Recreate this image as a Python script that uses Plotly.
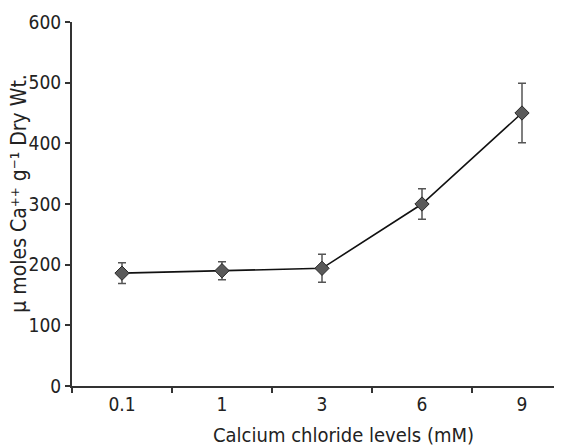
import plotly.graph_objects as go

categories = ["0.1", "1", "3", "6", "9"]
values = [186, 190, 194, 300, 450]
errors = [17, 15, 23, 25, 49]
y_ticks = [0, 100, 200, 300, 400, 500, 600]

FONT = "DejaVu Sans Condensed, Liberation Sans Narrow, Arial Narrow, sans-serif"
TXT = "#222222"

fig = go.Figure()
fig.add_trace(go.Scatter(
    x=categories, y=values,
    mode="lines+markers",
    line=dict(color="#111111", width=1.6),
    marker=dict(symbol="diamond", size=11, color="#5a5a5a",
                line=dict(color="#2a2a2a", width=1)),
    error_y=dict(type="data", array=errors, visible=True,
                 color="#555555", thickness=1.5, width=4),
    showlegend=False,
))

# page body has an 8px default margin, so the figure is sized to compensate
fig.update_layout(
    width=554, height=439,
    margin=dict(l=64, r=0, t=14, b=61),
    paper_bgcolor="white", plot_bgcolor="white",
    font=dict(family=FONT, size=19, color=TXT),
    xaxis=dict(
        type="category", range=[-0.5, 4.4], automargin=False,
        showline=True, linecolor="#333333", linewidth=2,
        ticks="outside", tickson="boundaries", ticklen=5, tickwidth=2,
        tickcolor="#333333", showgrid=False, zeroline=False,
        tickfont=dict(family=FONT, size=19, color=TXT),
    ),
    yaxis=dict(
        range=[0, 600], tickvals=y_ticks, automargin=False,
        showline=True, linecolor="#333333", linewidth=2,
        ticks="outside", ticklen=5, tickwidth=2, tickcolor="#333333",
        showgrid=False, zeroline=False,
        tickfont=dict(family=FONT, size=19, color=TXT),
    ),
    annotations=[
        dict(
            text="μ moles Ca⁺⁺ g⁻¹ Dry Wt.",
            textangle=-90, xref="paper", yref="paper",
            x=-0.107, y=0.53, xanchor="center", yanchor="middle",
            showarrow=False,
            font=dict(family=FONT, size=21, color=TXT),
        ),
        dict(
            text="Calcium chloride levels (mM)",
            xref="paper", yref="paper",
            x=0.555, y=-0.135, xanchor="center", yanchor="middle",
            showarrow=False,
            font=dict(family=FONT, size=20, color=TXT),
        ),
    ],
)

fig.write_html("out.html")
